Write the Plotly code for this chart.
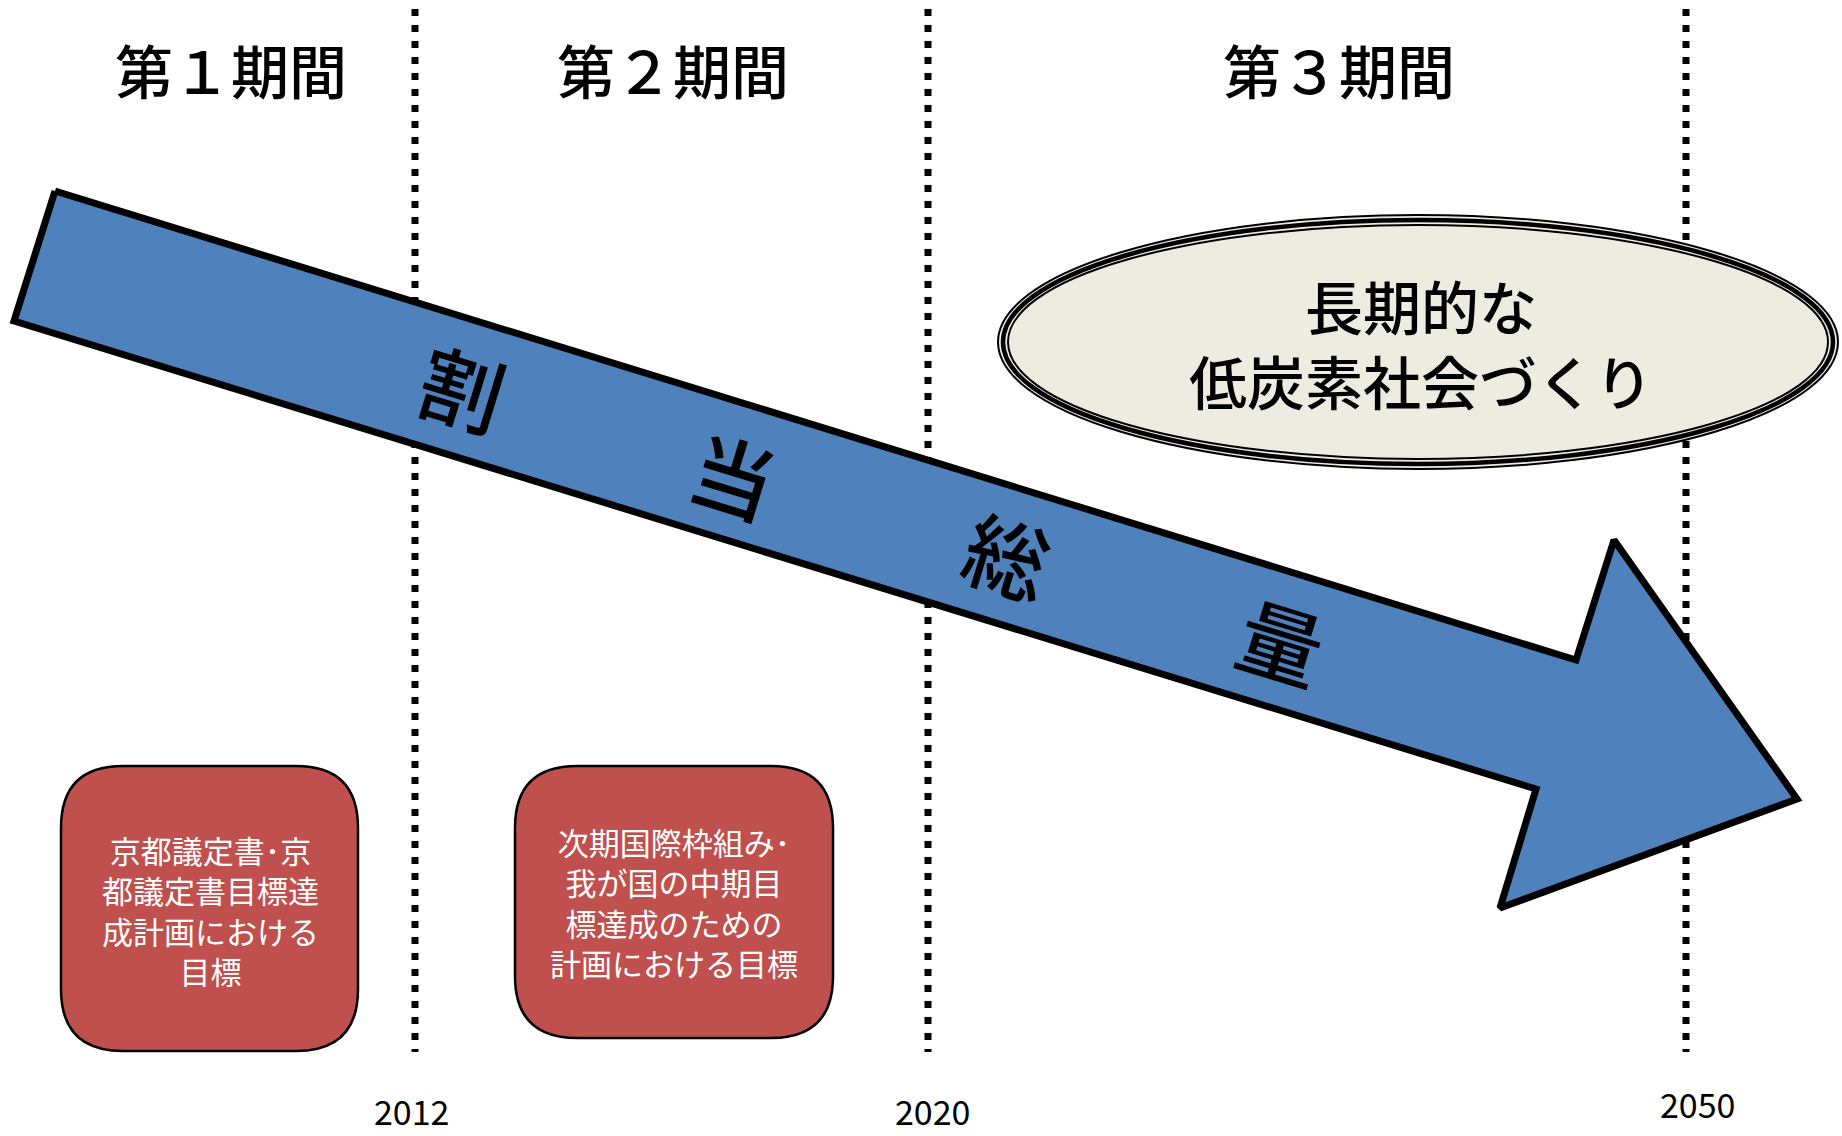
import plotly.graph_objects as go

# ---- content ----
period_labels = ["第１期間", "第２期間", "第３期間"]
boundary_years = ["2012", "2020", "2050"]
arrow_words = ["割", "当", "総", "量"]
goal_title = ["長期的な", "低炭素社会づくり"]
box1_lines = ["京都議定書･京", "都議定書目標達", "成計画における", "目標"]
box2_lines = ["次期国際枠組み･", "我が国の中期目", "標達成のための", "計画における目標"]

# ---- layout geometry (canvas pixel coordinates) ----
W, H = 1842, 1136
FONT = "Noto Sans CJK JP"
boundary_x = [415, 928, 1686]
year_label_pos = [(411, 1110), (932, 1110), (1697, 1103)]
period_pos = [(231, 69), (673, 69), (1339, 69)]
arrow_x = [55, 1576, 1614, 1797, 1500, 1536, 14, 55]
arrow_y = [191, 660, 540, 799, 908, 789, 321, 191]
word_pos = [(463, 386), (734, 473), (1008, 553), (1282, 639)]
ell_c, ell_rx, ell_ry = (1418, 342), 420, 127

fig = go.Figure()

shapes = []
# dotted period boundaries
for x in boundary_x:
    shapes.append(dict(type="line", x0=x, x1=x, y0=9, y1=1052, xref="x", yref="y",
                       line=dict(color="black", width=7, dash="7px,9px"), layer="below"))

# arrow
fig.add_trace(go.Scatter(x=arrow_x, y=arrow_y, mode="lines", fill="toself",
                         fillcolor="#4F81BD", line=dict(color="black", width=7),
                         hoverinfo="skip", showlegend=False))

# ellipse (thin-thick-thin outline)
cx, cy = ell_c
shapes.append(dict(type="circle", x0=cx - ell_rx, x1=cx + ell_rx, y0=cy - ell_ry, y1=cy + ell_ry,
                   fillcolor="#EEECE1", line=dict(color="black", width=2), layer="above"))
for d, w in [(5, 4.5), (10, 2)]:
    shapes.append(dict(type="circle", x0=cx - ell_rx + d, x1=cx + ell_rx - d,
                       y0=cy - ell_ry + d, y1=cy + ell_ry - d,
                       line=dict(color="black", width=w), layer="above"))


def rounded_rect(x0, y0, x1, y1, r):
    return (f"M {x0+r},{y0} L {x1-r},{y0} Q {x1},{y0} {x1},{y0+r} "
            f"L {x1},{y1-r} Q {x1},{y1} {x1-r},{y1} L {x0+r},{y1} "
            f"Q {x0},{y1} {x0},{y1-r} L {x0},{y0+r} Q {x0},{y0} {x0+r},{y0} Z")


boxes = [((61, 766, 358, 1051), box1_lines, 210, 910),
         ((515, 766, 833, 1038), box2_lines, 674, 902)]
for (x0, y0, x1, y1), lines, tx, ty in boxes:
    shapes.append(dict(type="path", path=rounded_rect(x0, y0, x1, y1, 62), xref="x", yref="y",
                       fillcolor="#C0504D", line=dict(color="black", width=2.5), layer="above"))

annotations = []
for (x, y), t in zip(period_pos, period_labels):
    annotations.append(dict(x=x, y=y, text=t, showarrow=False,
                            font=dict(family=FONT, size=58, color="black", weight=500)))
for (x, y), t in zip(year_label_pos, boundary_years):
    annotations.append(dict(x=x, y=y, text=t, showarrow=False,
                            font=dict(family=FONT, size=34, color="black")))
for (x, y), t in zip(word_pos, arrow_words):
    annotations.append(dict(x=x, y=y, text=t, showarrow=False, textangle=17,
                            font=dict(family=FONT, size=84, color="black", weight=500)))
annotations.append(dict(x=1421, y=342, text="<br>".join(goal_title), showarrow=False,
                        align="center", font=dict(family=FONT, size=58, color="black", weight=500)))
for (_, lines, tx, ty) in boxes:
    annotations.append(dict(x=tx, y=ty, text="<br>".join(lines), showarrow=False, align="center",
                            font=dict(family=FONT, size=31, color="white")))

fig.update_layout(
    width=W, height=H, margin=dict(l=0, r=0, t=0, b=0),
    paper_bgcolor="white", plot_bgcolor="white",
    xaxis=dict(range=[0, W], visible=False, fixedrange=True),
    yaxis=dict(range=[H, 0], visible=False, fixedrange=True),
    shapes=shapes, annotations=annotations, showlegend=False,
)

fig.write_html("out.html", config={"displayModeBar": False},
               post_script="document.body.style.margin='0';document.body.style.overflow='hidden';")
